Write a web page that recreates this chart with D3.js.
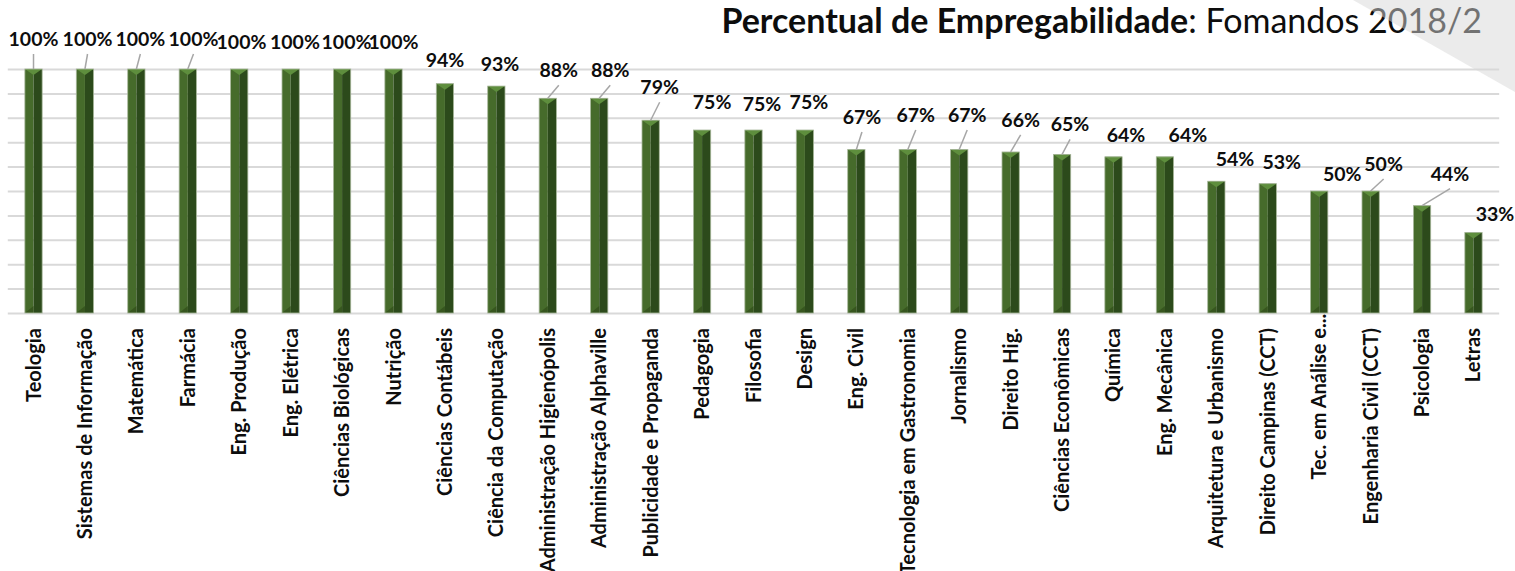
<!DOCTYPE html>
<html>
<head>
<meta charset="utf-8">
<script src="https://cdn.jsdelivr.net/npm/d3@7"></script>
<style>
  body { margin: 0; background: #fff; }
  svg { display: block; font-family: Lato, "Open Sans", sans-serif; }
</style>
</head>
<body>
<div id="chart"></div>
<script>
const categories = [
  'Teologia', 'Sistemas de Informação', 'Matemática', 'Farmácia', 'Eng. Produção',
  'Eng.  Elétrica', 'Ciências Biológicas', 'Nutrição', 'Ciências Contábeis',
  'Ciência da Computação', 'Administração Higienópolis', 'Administração Alphaville',
  'Publicidade e Propaganda', 'Pedagogia', 'Filosofia', 'Design', 'Eng. Civil',
  'Tecnologia em Gastronomia', 'Jornalismo', 'Direito Hig.', 'Ciências Econômicas',
  'Química', 'Eng. Mecânica', 'Arquitetura e Urbanismo', 'Direito Campinas (CCT)',
  'Tec. em Análise e...', 'Engenharia Civil (CCT)', 'Psicologia', 'Letras'
];
const values = [100, 100, 100, 100, 100, 100, 100, 100, 94, 93, 88, 88, 79, 75, 75, 75,
  67, 67, 67, 66, 65, 64, 64, 54, 53, 50, 50, 44, 33];
const yTicks = [0, 10, 20, 30, 40, 50, 60, 70, 80, 90, 100];

const titleBold = 'Percentual de Empregabilidade';
const titleRest = ': Fomandos 2018/2';

// data label layout: [shift right, gap above bar, leader line]
const labelOffsets = [
  [0, 23, 1], [2.6, 23, 1], [4, 23, 1], [5.7, 23, 1], [2.3, 20, 0], [4.3, 20, 0],
  [4.4, 20, 0], [0, 20, 0], [0, 16.6, 0], [3.6, 15, 0], [11, 21, 1], [11, 21, 1],
  [9, 26, 1], [10, 21, 0], [8.5, 19, 0], [4, 21, 0], [5.6, 25.5, 1], [8, 27.5, 1],
  [8, 27.5, 1], [10, 25, 1], [8, 23, 1], [12.5, 15, 0], [23, 15, 0], [18.6, 15, 0],
  [14, 14.7, 0], [23, 10, 0], [13, 20, 1], [28, 25, 1], [21.5, 11.5, 0]
];

const width = 1515, height = 571;
const plot = {left: 7.8, right: 1499.2, top: 69, bottom: 313};

const svg = d3.select('#chart').append('svg')
    .attr('width', width)
    .attr('height', height);

const x = d3.scaleBand()
    .domain(categories)
    .range([plot.left, plot.right])
    .paddingInner(0.664)
    .paddingOuter(0.332);

const y = d3.scaleLinear()
    .domain([0, 100])
    .range([plot.bottom, plot.top]);

// gridlines
const grid = svg.append('g')
    .attr('transform', 'translate(' + plot.left + ',0)')
    .call(d3.axisLeft(y).tickValues(yTicks).tickSize(-(plot.right - plot.left)).tickFormat(''));
grid.select('.domain').remove();
grid.selectAll('line')
    .attr('stroke', '#d9d9d9')
    .attr('stroke-width', 2);

// bars
const bw = x.bandwidth();
const bars = svg.append('g').selectAll('g')
    .data(categories)
    .enter().append('g');

bars.append('rect')
    .attr('x', d => x(d))
    .attr('y', (d, i) => y(values[i]))
    .attr('width', bw / 2)
    .attr('height', (d, i) => y(0) - y(values[i]))
    .attr('fill', '#466b2b');

bars.append('rect')
    .attr('x', d => x(d) + bw / 2)
    .attr('y', (d, i) => y(values[i]))
    .attr('width', bw / 2)
    .attr('height', (d, i) => y(0) - y(values[i]))
    .attr('fill', '#2c4a1b');

bars.append('path')
    .attr('d', (d, i) => {
        const x0 = x(d), yt = y(values[i]);
        return 'M' + x0 + ',' + yt + 'L' + (x0 + bw) + ',' + yt + 'L' + (x0 + bw / 2) + ',' + (yt + 6) + 'Z';
    })
    .attr('fill', '#5e8e3d');

bars.append('path')
    .attr('d', d => {
        const x0 = x(d), yb = y(0);
        return 'M' + x0 + ',' + yb + 'L' + (x0 + bw / 2) + ',' + (yb - 7) + 'L' + (x0 + bw / 2) + ',' + yb + 'Z';
    })
    .attr('fill', '#37561f');

bars.append('rect')
    .attr('x', d => x(d))
    .attr('y', (d, i) => y(values[i]))
    .attr('width', bw)
    .attr('height', (d, i) => y(0) - y(values[i]))
    .attr('fill', 'none')
    .attr('stroke', '#a9b89c')
    .attr('stroke-width', 0.8);

// data labels with leader lines
const lbl = svg.append('g');
categories.forEach((c, i) => {
    const cx = x(c) + bw / 2;
    const yt = y(values[i]);
    const off = labelOffsets[i];
    const lx = cx + off[0];
    const ly = yt - off[1];
    if (off[2]) {
        lbl.append('line')
            .attr('x1', lx).attr('y1', ly + 8)
            .attr('x2', cx).attr('y2', yt)
            .attr('stroke', '#a6a6a6')
            .attr('stroke-width', 1.5);
    }
    lbl.append('text')
        .attr('x', lx)
        .attr('y', ly)
        .attr('text-anchor', 'middle')
        .attr('font-weight', 'bold')
        .attr('font-size', 19.5)
        .attr('fill', '#0d0d0d')
        .text(values[i] + '%');
});

// category labels
const catLabels = svg.append('g');
categories.forEach(c => {
    const cx = x(c) + bw / 2;
    const t = catLabels.append('g')
        .attr('transform', 'translate(' + cx + ',328) rotate(-90)');
    const trunc = c.endsWith('...');
    t.append('text')
        .attr('text-anchor', 'end')
        .attr('dy', '0.35em')
        .attr('font-weight', 'bold')
        .attr('font-size', 20)
        .attr('fill', '#0d0d0d')
        .text(trunc ? c.slice(0, -3) : c);
    if (trunc) {
        t.append('text')
            .attr('text-anchor', 'start')
            .attr('dy', '0.35em')
            .attr('font-weight', 'bold')
            .attr('font-size', 20)
            .attr('fill', '#0d0d0d')
            .text('...');
    }
});

// title
const title = svg.append('text')
    .attr('x', 1482)
    .attr('y', 33)
    .attr('text-anchor', 'end')
    .attr('font-size', 34)
    .attr('fill', '#0d0d0d');
title.append('tspan').attr('font-weight', 'bold').text(titleBold);
title.append('tspan').text(titleRest);

// folded page corner
svg.append('path')
    .attr('d', 'M1353,0L1515,0L1515,92Z')
    .attr('fill', '#d8d8d8')
    .attr('fill-opacity', 0.5);
</script>
</body>
</html>
